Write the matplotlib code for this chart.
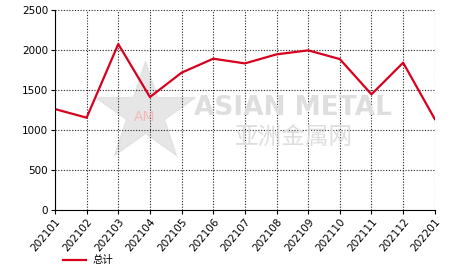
import matplotlib
matplotlib.use('Agg')
import matplotlib.pyplot as plt
from matplotlib.lines import Line2D

plt.rcParams['font.family'] = ['DejaVu Sans', 'Noto Sans CJK SC']

months = ['202101', '202102', '202103', '202104', '202105', '202106', '202107',
          '202108', '202109', '202110', '202111', '202112', '202201']
totals = [1262, 1154, 2075, 1412, 1717, 1892, 1833, 1946, 1996, 1887, 1446, 1842, 1137]
y_ticks = [0, 500, 1000, 1500, 2000, 2500]

fig = plt.figure(figsize=(4.66, 2.72), dpi=100)
ax = fig.add_axes([0.118, 0.228, 0.815, 0.735])

# watermark (logo star + text)
star = Line2D([0.311], [0.585], marker='*', markersize=75, color='#dcdcdc',
              alpha=0.7, transform=fig.transFigure, zorder=0)
fig.add_artist(star)
fig.text(0.311, 0.570, 'AM', fontsize=10, color='#f4b8b8',
         ha='center', va='center', family='DejaVu Sans', zorder=1)
fig.text(0.629, 0.603, 'ASIAN METAL', fontsize=19, color='#dedede',
         ha='center', va='center', family='DejaVu Sans', weight='bold', zorder=1)
fig.text(0.631, 0.493, '亚洲金属网', fontsize=17, color='#dedede',
         ha='center', va='center', family='Noto Sans CJK SC', zorder=1)

x = list(range(len(months)))
ax.plot(x, totals, color='#d7001e', lw=1.6, label='总计')

ax.set_xlim(0, len(months) - 1)
ax.set_ylim(0, 2500)
ax.set_xticks(x)
ax.set_xticklabels(months, rotation=50, ha='right', rotation_mode='anchor')
ax.set_yticks(y_ticks)
ax.tick_params(labelsize=7.5, length=3, width=0.8, pad=2)
ax.grid(True, color='#222222', ls=(0, (1, 1.5)), lw=0.8)
ax.spines['top'].set_visible(False)
ax.spines['right'].set_visible(False)
ax.patch.set_alpha(0)

fig.legend(loc='lower left', bbox_to_anchor=(0.115, -0.01), frameon=False,
           handlelength=2.2, handletextpad=0.6,
           prop={'family': ['Noto Sans CJK SC'], 'size': 7.5})

fig.savefig('out.png', dpi=100)
